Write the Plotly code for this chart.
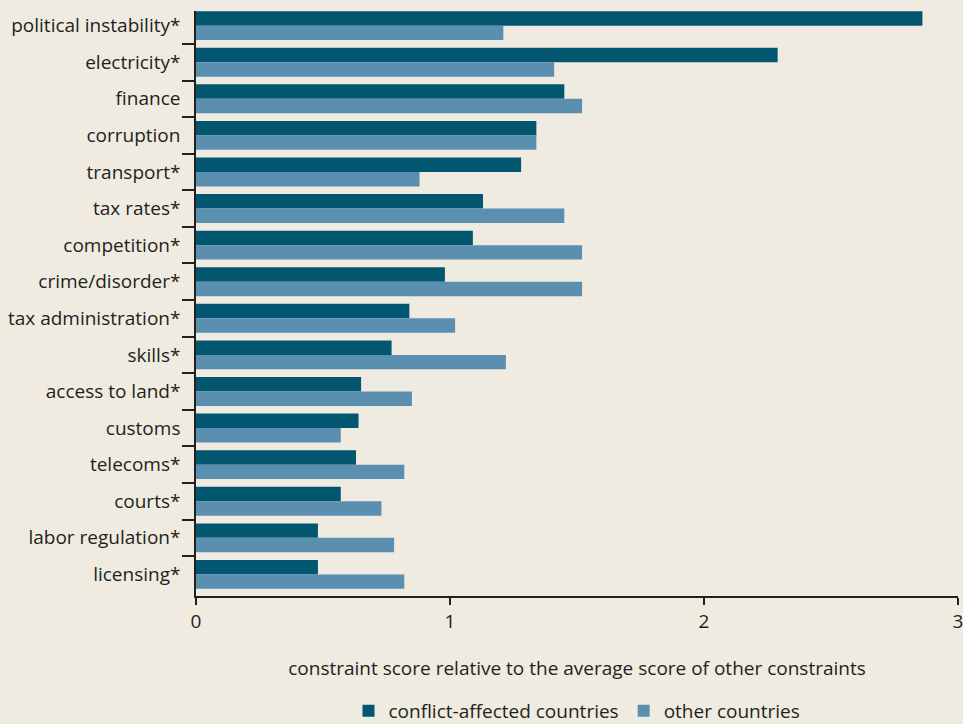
import plotly.graph_objects as go

categories = ["political instability*", "electricity*", "finance", "corruption", "transport*",
              "tax rates*", "competition*", "crime/disorder*", "tax administration*", "skills*",
              "access to land*", "customs", "telecoms*", "courts*", "labor regulation*", "licensing*"]
conflict = [2.86, 2.29, 1.45, 1.34, 1.28, 1.13, 1.09, 0.98, 0.84, 0.77, 0.65, 0.64, 0.63, 0.57, 0.48, 0.48]
other = [1.21, 1.41, 1.52, 1.34, 0.88, 1.45, 1.52, 1.52, 1.02, 1.22, 0.85, 0.57, 0.82, 0.73, 0.78, 0.82]
x_ticks = [0, 1, 2, 3]

FONT = "Open Sans"
DARK = "#03566F"
LIGHT = "#5B8FB0"
BG = "#EFEBE1"

fig = go.Figure()
fig.add_trace(go.Bar(y=categories, x=conflict, orientation="h", name="conflict-affected countries",
                     marker=dict(color=DARK, line=dict(width=0))))
fig.add_trace(go.Bar(y=categories, x=other, orientation="h", name="other countries",
                     marker=dict(color=LIGHT, line=dict(width=0))))

fig.update_layout(
    width=963, height=724,
    paper_bgcolor=BG, plot_bgcolor=BG,
    barmode="group", bargap=0.21, bargroupgap=0,
    margin=dict(l=196, r=5, t=11, b=128, autoexpand=False),
    font=dict(family=FONT, size=19, color="#231F20"),
    showlegend=True,
    legend=dict(orientation="h", x=0.5, xanchor="center", xref="paper",
                yref="container", y=0.018, yanchor="middle",
                font=dict(size=19), traceorder="normal", itemwidth=30),
    xaxis=dict(range=[0, 3], tickvals=x_ticks, ticktext=[str(v) for v in x_ticks],
               showgrid=False, zeroline=False, showline=True, linecolor="#231F20", linewidth=1.5,
               ticks="outside", ticklen=7, tickwidth=1.5, tickcolor="#231F20",
               ticklabeloverflow="allow",
               title=dict(text="constraint score relative to the average score of other constraints",
                          font=dict(size=19), standoff=29)),
    yaxis=dict(categoryorder="array", categoryarray=categories, range=[15.59, -0.4],
               showgrid=False, zeroline=False, showline=True, linecolor="#231F20", linewidth=1.5,
               ticks="outside", ticklen=12, tickwidth=1.5, tickcolor="#231F20",
               tickson="boundaries", ticklabelstandoff=10),
)

fig.write_html("out.html", config={"displayModeBar": False},
               post_script="document.body.style.margin='0';document.body.style.padding='0';")
